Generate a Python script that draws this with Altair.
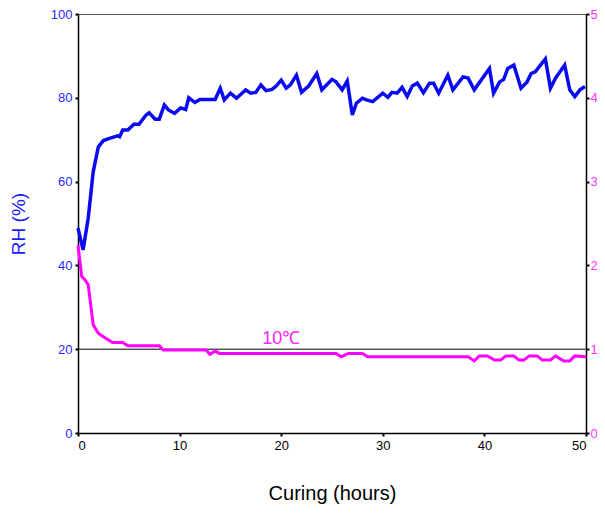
import altair as alt
import pandas as pd

# RH (%) series, left axis
rh_hours = [0, 0.5, 1.0, 1.5, 2.0, 2.5, 3.1, 3.9, 4.1, 4.4, 4.9, 5.5, 6.0, 6.7, 7.0, 7.6, 8.0,
            8.5, 8.9, 9.5, 10.1, 10.6, 10.9, 11.5, 12.0, 13.5, 14.0, 14.4, 15.0, 15.6, 16.5,
            17.0, 17.5, 18.0, 18.5, 19.1, 19.5, 20.0, 20.5, 20.9, 21.5, 22.0, 22.7, 23.5,
            24.0, 25.0, 25.4, 26.0, 26.5, 27.0, 27.4, 28.0, 28.4, 29.0, 30.0, 30.5, 30.9,
            31.4, 31.9, 32.4, 32.9, 33.4, 34.0, 34.6, 35.0, 35.5, 36.4, 36.9, 37.9, 38.4,
            39.0, 40.5, 40.9, 41.5, 41.9, 42.3, 42.9, 43.6, 44.2, 44.6, 45.0, 46.0, 46.5,
            47.0, 47.9, 48.4, 48.9, 49.4, 49.9]
rh_values = [48.9, 43.7, 51.2, 62.4, 68.3, 69.8, 70.3, 70.9, 70.7, 72.3, 72.3, 73.7, 73.7, 75.9,
             76.4, 74.9, 74.9, 78.3, 77.1, 76.3, 77.6, 77.2, 80.0, 78.9, 79.6, 79.6, 82.3,
             79.5, 81.1, 79.9, 81.9, 81.1, 81.3, 83.1, 81.7, 82.0, 82.8, 84.2, 82.3, 83.1,
             85.4, 81.3, 82.8, 85.8, 81.9, 84.4, 83.8, 81.9, 84.0, 75.9, 78.7, 79.9, 79.5,
             79.1, 81.1, 80.1, 81.3, 81.1, 82.5, 80.3, 82.8, 83.5, 81.2, 83.5, 83.5, 81.1,
             85.4, 81.9, 85.0, 84.7, 81.9, 87.0, 81.1, 83.8, 84.4, 87.0, 87.8, 82.3, 83.8,
             85.8, 86.2, 89.3, 82.3, 84.7, 87.8, 81.9, 80.3, 81.9, 82.7]

# magenta series, right axis (0-5)
mag_hours = [0, 0.36, 0.68, 1.0, 1.5, 2.0, 2.5, 3.4, 4.4, 4.9, 8.0, 8.4, 12.6, 13.0, 13.5, 13.9,
             25.4, 25.9, 26.6, 28.0, 28.5, 38.4, 39.0, 39.5, 40.3, 41.0, 41.6, 42.1, 42.9,
             43.4, 43.9, 44.4, 45.2, 45.7, 46.5, 47.0, 47.8, 48.4, 48.9, 50.0]
mag_values = [2.24, 1.87, 1.83, 1.77, 1.29, 1.19, 1.15, 1.08, 1.08, 1.04, 1.04, 0.99, 0.99, 0.94,
              0.98, 0.95, 0.95, 0.91, 0.95, 0.95, 0.91, 0.91, 0.86, 0.92, 0.92, 0.87, 0.87,
              0.92, 0.92, 0.87, 0.87, 0.92, 0.92, 0.87, 0.87, 0.92, 0.86, 0.86, 0.92, 0.91]

x_ticks = [0, 10, 20, 30, 40, 50]
y_ticks = [0, 20, 40, 60, 80, 100]
y2_ticks = [0, 1, 2, 3, 4, 5]
ref_level = 20
label_text = "10\u2103"
label_x = 20
label_y = 20.2

rh_df = pd.DataFrame({"h": rh_hours, "v": rh_values})
mag_df = pd.DataFrame({"h": mag_hours, "v": mag_values})

FONT = "Liberation Sans"
xscale = alt.Scale(domain=[0, 50], nice=False)

x_enc = alt.X("h:Q", scale=xscale,
              axis=alt.Axis(values=x_ticks, title="Curing (hours)", titleFontSize=20,
                            titleFontWeight="normal", titleColor="black", titlePadding=31,
                            labelColor="black", grid=False))

blue = alt.Chart(rh_df).mark_line(color="#0a0af0", strokeWidth=3.5).encode(
    x=x_enc,
    y=alt.Y("v:Q", scale=alt.Scale(domain=[0, 100], nice=False),
            axis=alt.Axis(values=y_ticks, title="RH (%)", titleColor="#1a1aff",
                          titleFontSize=19, titleFontWeight="normal", titlePadding=22,
                          labelColor="#2a2aff", grid=False)),
)

rule = alt.Chart(pd.DataFrame({"y": [ref_level]})).mark_rule(color="black", strokeWidth=1).encode(
    y="y:Q"
)

txt = alt.Chart(pd.DataFrame({"h": [label_x], "v": [label_y], "t": [label_text]})).mark_text(
    color="#ff22ff", fontSize=18, font=FONT, align="center", baseline="bottom"
).encode(x=alt.X("h:Q", scale=xscale), y="v:Q", text="t:N")

magenta = alt.Chart(mag_df).mark_line(color="#ff00ff", strokeWidth=3).encode(
    x=alt.X("h:Q", scale=xscale),
    y=alt.Y("v:Q", scale=alt.Scale(domain=[0, 5], nice=False),
            axis=alt.Axis(values=y2_ticks, orient="right", title=None, labelColor="#ff33ff",
                          grid=False, labelPadding=1)),
)

chart = alt.layer(alt.layer(blue, rule, txt), magenta).resolve_scale(y="independent").properties(
    width=508, height=419,
    autosize=alt.AutoSizeParams(type="none"),
    padding={"left": 70, "top": 6, "right": 11, "bottom": 72},
    background="white",
).configure_view(stroke="#555555", strokeWidth=1).configure_axis(
    grid=False, labelFont=FONT, titleFont=FONT, labelFontSize=13,
    domainColor="black", domainWidth=1.5, tickColor="black", tickSize=3, tickWidth=2,
    labelPadding=3,
)

chart.save("out.html", embed_options={"renderer": "svg", "actions": False})
